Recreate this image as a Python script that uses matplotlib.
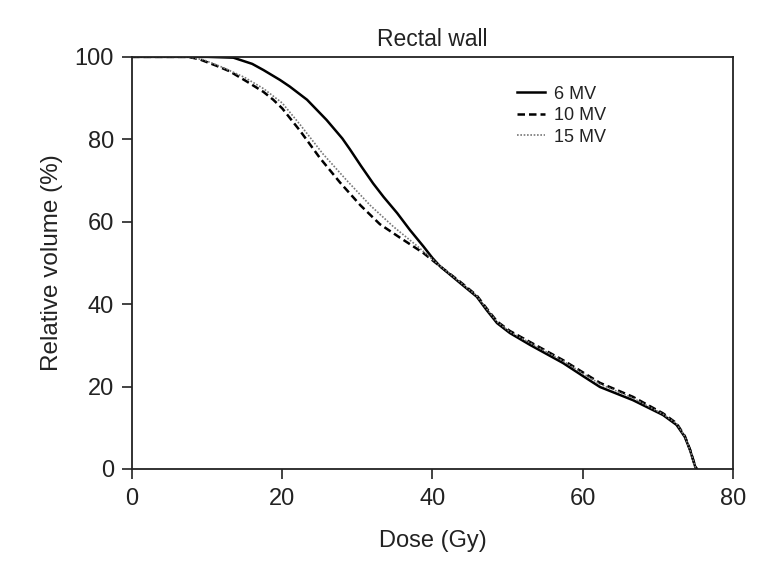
import matplotlib.pyplot as plt

plt.rcParams['font.family'] = ['Liberation Sans', 'DejaVu Sans']

# dose-volume histogram, rectal wall
dose_6mv = [0, 10, 13.5, 16, 17.5, 19.7, 21, 23.3, 25.9, 28, 29, 30.5, 32.1, 33.5,
            35.3, 37, 38.8, 40, 41, 43.7, 45.9, 47.2, 48.6, 50.3, 53, 57.4, 60,
            62.3, 66.7, 70.7, 72.5, 73.6, 74.3, 75.0, 75.2]
vol_6mv = [100, 100, 99.8, 98.3, 96.8, 94.4, 92.8, 89.6, 84.7, 80.2, 77.6, 73.5,
           69.3, 66, 62.1, 58, 54.0, 51.2, 49.2, 45.1, 41.8, 38.6, 35.4, 33.0, 30.1,
           25.7, 22.6, 19.9, 16.7, 13.1, 10.7, 7.8, 4.6, 0.5, 0]

dose_10mv = [0, 7.5, 9, 11.3, 13, 15.3, 17.5, 18.8, 20, 22.4, 25, 27.7, 30.4, 33,
             35.7, 38.8, 41, 43.7, 45.9, 47.2, 48.6, 50.3, 53, 57.4, 62.3, 66.7,
             70.7, 72.5, 73.6, 74.3, 75.0, 75.2]
vol_10mv = [100, 100, 99.4, 97.8, 96.5, 94, 91.5, 89.6, 87.5, 82, 75.5, 69.5, 64,
            59.4, 56.1, 52.4, 49.2, 45.4, 42.1, 39, 35.8, 33.5, 30.8, 26.4, 20.9,
            17.5, 13.5, 11.1, 8, 4.7, 0.6, 0]

dose_15mv = [0, 7.5, 9.5, 12, 15, 17.5, 20, 22.4, 25.4, 28.6, 31.7, 34.8, 37.9, 41,
             43.7, 45.9, 47.2, 48.6, 50.3, 53, 57.4, 62.3, 66.7, 70.7, 72.5, 73.6,
             74.3, 75.0, 75.2]
vol_15mv = [100, 100, 99.3, 97.5, 95, 92.3, 88.8, 83.5, 76.5, 70, 64, 58.8, 54.2,
            49.3, 45.3, 42, 38.9, 35.7, 33.3, 30.6, 26.2, 20.6, 17.2, 13.3, 11, 7.9,
            4.6, 0.5, 0]

xticks = [0, 20, 40, 60, 80]
yticks = [0, 20, 40, 60, 80, 100]


def main():
    fig = plt.figure(figsize=(7.61, 5.63), dpi=100)
    ax = fig.add_axes([0.1735, 0.167, 0.7895, 0.732])

    ax.plot(dose_6mv, vol_6mv, color='black', lw=1.8, label='6 MV')
    ax.plot(dose_10mv, vol_10mv, color='black', lw=1.8, linestyle=(0, (3, 1.6)),
            label='10 MV')
    ax.plot(dose_15mv, vol_15mv, color='#777777', lw=1.2, linestyle=(0, (1, 1)),
            label='15 MV')

    ax.set_xlim(0, 80)
    ax.set_ylim(0, 100)
    ax.set_xticks(xticks)
    ax.set_yticks(yticks)
    ax.tick_params(labelsize=17, length=7, width=1.2, color='#222222',
                   labelcolor='#222222')
    ax.tick_params(axis='x', pad=7)
    ax.tick_params(axis='y', pad=6)
    for s in ax.spines.values():
        s.set_linewidth(1.3)
        s.set_color('#222222')

    ax.set_xlabel('Dose (Gy)', fontsize=17, labelpad=14, color='#222222')
    ax.set_ylabel('Relative volume (%)', fontsize=17.5, labelpad=8, color='#222222')
    ax.set_title('Rectal wall', fontsize=16.5, pad=8, color='#222222')

    ax.legend(loc='upper left', bbox_to_anchor=(0.64, 0.93), frameon=False,
              borderpad=0, borderaxespad=0, fontsize=13, handlelength=1.55,
              handletextpad=0.5, labelspacing=0.25, labelcolor='#222222')

    fig.savefig('out.png', dpi=100)


if __name__ == '__main__':
    main()
